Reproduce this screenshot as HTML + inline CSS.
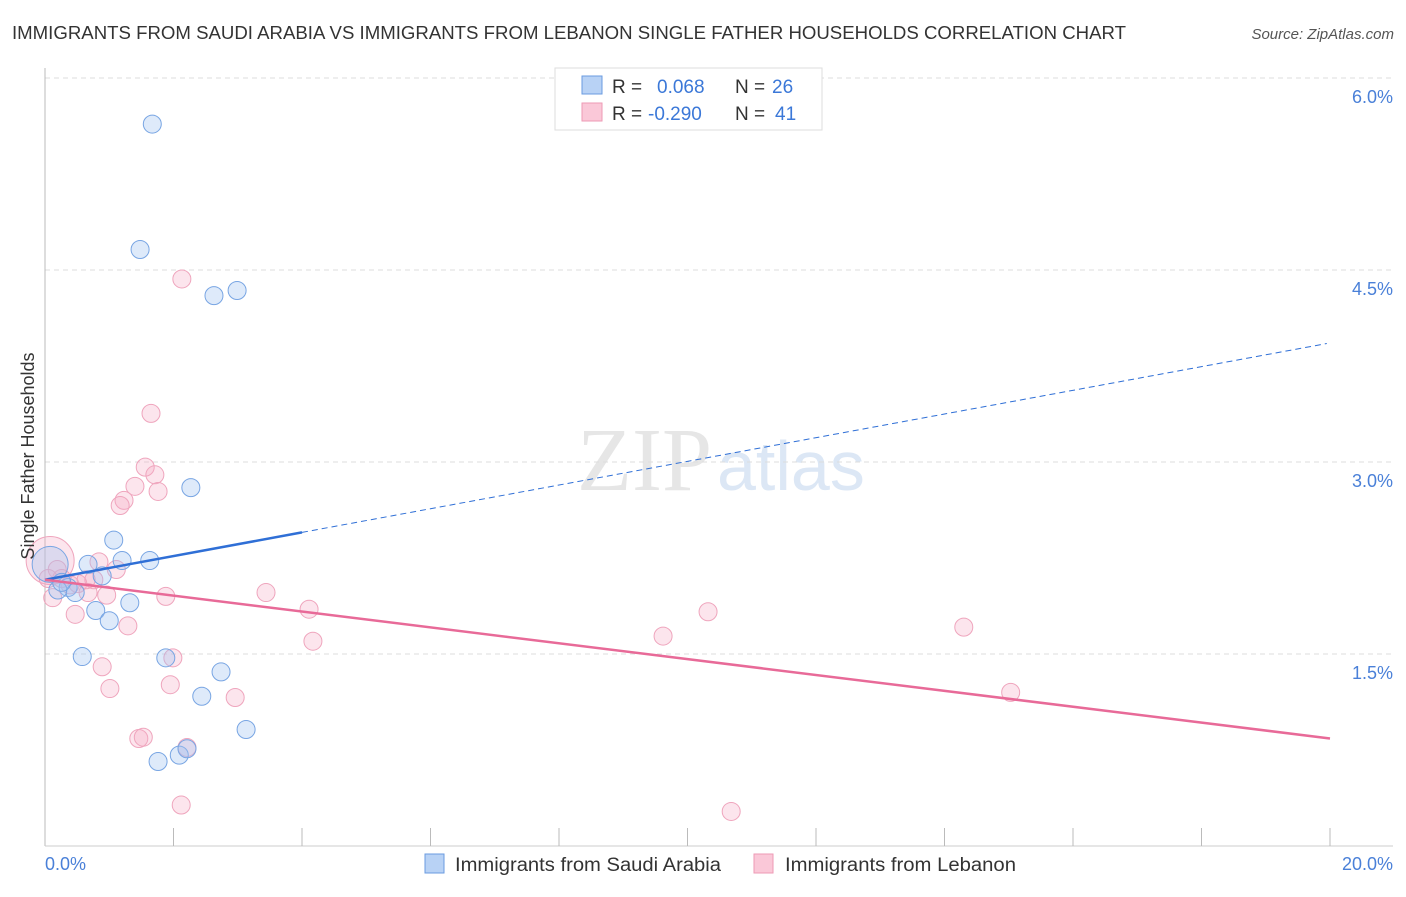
<!DOCTYPE html><html><head><meta charset="utf-8"><style>
body{margin:0;background:#fff;font-family:"Liberation Sans",sans-serif}
</style></head><body>
<svg id="c" width="1406" height="892" font-family="Liberation Sans, sans-serif">
<text x="12" y="39" font-size="18" fill="#333" textLength="1114" lengthAdjust="spacingAndGlyphs">IMMIGRANTS FROM SAUDI ARABIA VS IMMIGRANTS FROM LEBANON SINGLE FATHER HOUSEHOLDS CORRELATION CHART</text>
<text x="1394" y="39" font-size="15" fill="#555" text-anchor="end" font-style="italic">Source: ZipAtlas.com</text>
<text x="712" y="490" font-size="90" fill="#e6e6e6" text-anchor="end" font-family="Liberation Serif, serif">ZIP</text>
<text x="717" y="490" font-size="70" fill="#dce7f5">atlas</text>
<g id="grid"></g><g id="axes"></g><g id="marks"></g>
<text transform="translate(34,456) rotate(-90)" font-size="18" fill="#333" text-anchor="middle">Single Father Households</text>
<g>
<rect x="555" y="68" width="267" height="62" fill="#fff" stroke="#ddd"/>
<rect x="582" y="76" width="20" height="18" fill="#b8d2f5" stroke="#6a9be0"/>
<rect x="582" y="103" width="20" height="18" fill="#fac8d8" stroke="#ee9ab5"/>
<text x="612" y="93" font-size="19" fill="#333">R = <tspan x="657" fill="#3b78d8">0.068</tspan><tspan x="735">N =</tspan><tspan x="772" fill="#3b78d8">26</tspan></text>
<text x="612" y="120" font-size="19" fill="#333">R = <tspan x="648" fill="#3b78d8">-0.290</tspan><tspan x="735">N =</tspan><tspan x="775" fill="#3b78d8">41</tspan></text>
</g>
<g>
<rect x="425" y="854" width="19" height="19" fill="#b8d2f5" stroke="#6a9be0"/>
<text x="455" y="871" font-size="19" fill="#333" textLength="266" lengthAdjust="spacingAndGlyphs">Immigrants from Saudi Arabia</text>
<rect x="754" y="854" width="19" height="19" fill="#fac8d8" stroke="#ee9ab5"/>
<text x="785" y="871" font-size="19" fill="#333" textLength="231" lengthAdjust="spacingAndGlyphs">Immigrants from Lebanon</text>
</g>
</svg>
<script>
const xTicks=[0,20];
const yTicks=[1.5,3.0,4.5,6.0];
const blueX=[1.67,1.48,2.63,2.99,2.27,1.07,1.63,1.20,0.67,0.89,0.36,0.20,0.47,0.79,1.32,1.00,0.58,1.88,2.74,2.44,3.13,1.76,2.09,2.21,0.08,0.26];
const blueY=[5.64,4.66,4.30,4.34,2.80,2.39,2.23,2.23,2.20,2.11,2.02,2.00,1.98,1.84,1.90,1.76,1.48,1.47,1.36,1.17,0.91,0.66,0.71,0.76,2.20,2.06];
const pinkX=[2.13,1.65,1.56,1.71,1.76,1.40,1.23,1.17,0.84,1.11,0.76,0.39,0.51,0.96,0.67,0.47,1.29,1.88,3.44,4.11,4.17,10.32,9.62,14.30,15.03,0.89,1.01,1.99,1.95,2.96,1.46,1.53,2.21,2.12,10.68,0.08,0.19,0.26,0.05,0.64,0.12];
const pinkY=[4.43,3.38,2.96,2.90,2.77,2.81,2.70,2.66,2.22,2.16,2.08,2.04,2.05,1.96,1.98,1.81,1.72,1.95,1.98,1.85,1.60,1.83,1.64,1.71,1.20,1.40,1.23,1.47,1.26,1.16,0.84,0.85,0.77,0.32,0.27,2.23,2.16,2.09,2.09,2.08,1.94];
const blueTrend=[2.08,3.93];
const pinkTrend=[2.08,0.84];
const X=v=>45+v/20*1285, Y=v=>846-v*128;
const NS="http://www.w3.org/2000/svg";
function mk(p,t,a){const e=document.createElementNS(NS,t);for(const k in a)e.setAttribute(k,a[k]);p.appendChild(e);return e;}
const grid=document.getElementById('grid'),axes=document.getElementById('axes'),marks=document.getElementById('marks');
yTicks.forEach(v=>{
const l=mk(grid,'line',{x1:45,x2:1393,y1:Y(v),y2:Y(v),stroke:'#ddd','stroke-dasharray':'5,4'});


const t=mk(grid,'text',{x:1393,y:Y(v)+25,'font-size':18,fill:'#4a80d8','text-anchor':'end'});t.textContent=v.toFixed(1)+'%';


});
mk(axes,'line',{x1:45,x2:45,y1:68,y2:846,stroke:'#bbb'});
mk(axes,'line',{x1:45,x2:1393,y1:846,y2:846,stroke:'#ccc'});
for(let i=1;i<=10;i++){const x=X(i*2);const l=mk(axes,'line',{x1:x,x2:x,y1:828,y2:846,stroke:'#bbb'});

}
xTicks.forEach((v,i)=>{const t=mk(axes,'text',{x:i?1393:45,y:870,'font-size':18,fill:'#4a80d8','text-anchor':i?'end':'start'});t.textContent=v.toFixed(1)+'%';

});
function dot(x,y,r,f,s,name){const c=mk(marks,'circle',{cx:X(x),cy:Y(y),r:r,fill:f,stroke:s,'stroke-width':1});

}
pinkX.forEach((x,i)=>dot(x,pinkY[i],i==35?24:9,'rgba(245,170,195,0.3)','#efa5bd','lebanon-point'));
blueX.forEach((x,i)=>dot(x,blueY[i],i==24?18:9,'rgba(160,195,240,0.35)','#78a5e3','saudi-arabia-point'));
const xm=4;const ym=blueTrend[0]+(blueTrend[1]-blueTrend[0])*xm/20;
let l=mk(marks,'line',{x1:X(0),y1:Y(blueTrend[0]),x2:X(xm),y2:Y(ym),stroke:'#2f6fd6','stroke-width':2.5});


l=mk(marks,'line',{x1:X(xm),y1:Y(ym),x2:X(19.95),y2:Y(blueTrend[0]+(blueTrend[1]-blueTrend[0])*19.95/20),stroke:'#2f6fd6','stroke-width':1,'stroke-dasharray':'6,4'});


l=mk(marks,'line',{x1:X(0),y1:Y(pinkTrend[0]),x2:X(20),y2:Y(pinkTrend[1]),stroke:'#e86a98','stroke-width':2.5});


</script></body></html>
